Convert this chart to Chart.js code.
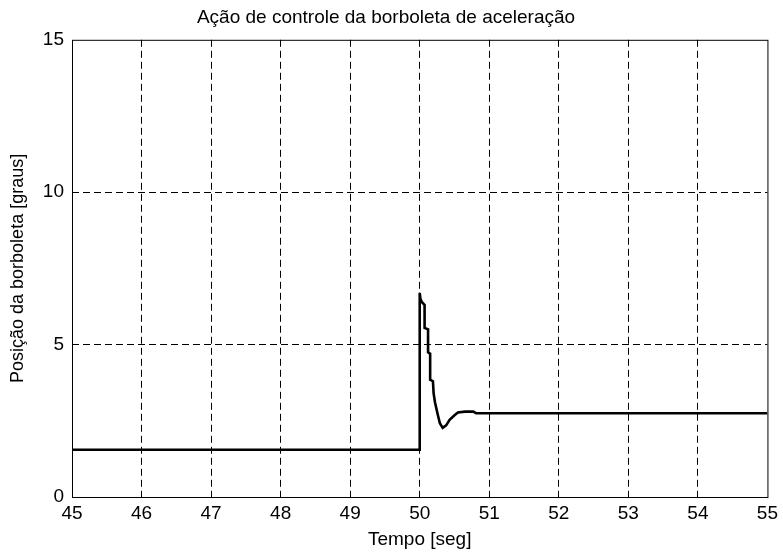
<!DOCTYPE html>
<html>
<head>
<meta charset="utf-8">
<script src="https://cdn.jsdelivr.net/npm/chart.js@4/dist/chart.umd.min.js"></script>
<style>
  body { margin: 0; background: #fff; }
  canvas { display: block; }
</style>
</head>
<body>
<canvas id="throttle" width="783" height="556"></canvas>
<script>
// time [s] and throttle position [deg]
const tempo = [45, 50, 50, 50.01, 50.03, 50.07, 50.07, 50.12, 50.12, 50.15, 50.15, 50.19, 50.2, 50.22, 50.26, 50.29, 50.33, 50.38, 50.43, 50.5, 50.55, 50.65, 50.77, 50.81, 55];
const posicao = [1.55, 1.55, 6.7, 6.5, 6.4, 6.3, 5.55, 5.5, 4.75, 4.7, 3.85, 3.8, 3.4, 3.1, 2.7, 2.42, 2.27, 2.35, 2.53, 2.68, 2.77, 2.8, 2.8, 2.75, 2.75];

const xRange = [45, 55];
const yRange = [0, 15];

const FONT = "'Liberation Sans', Arial, sans-serif";

// hide the dashed grid line on the plot edges, the box covers them
function gridColor(min, max) {
  return function(ctx) {
    const v = ctx.tick && ctx.tick.value;
    return (v === min || v === max) ? 'rgba(0,0,0,0)' : '#000';
  };
}

const boxPlugin = {
  id: 'box',
  afterDraw(chart) {
    const { ctx, chartArea: a } = chart;
    ctx.save();
    ctx.strokeStyle = '#000';
    ctx.lineWidth = 1;
    ctx.setLineDash([]);
    ctx.strokeRect(a.left + 0.5, a.top + 0.5, a.right - a.left, a.bottom - a.top);
    ctx.restore();
  }
};

new Chart(document.getElementById('throttle'), {
  type: 'line',
  data: {
    datasets: [{
      data: tempo.map((t, i) => ({ x: t, y: posicao[i] })),
      borderColor: '#000',
      borderWidth: 2.6,
      pointRadius: 0,
      tension: 0,
      fill: false
    }]
  },
  options: {
    responsive: false,
    animation: false,
    layout: { padding: { left: 0, right: 11, top: 0, bottom: 0 } },
    plugins: {
      legend: { display: false },
      tooltip: { enabled: false },
      title: {
        display: true,
        text: 'Ação de controle da borboleta de aceleração',
        color: '#000',
        font: { family: FONT, size: 19, weight: 'normal' },
        padding: { top: 6, bottom: 11 }
      }
    },
    scales: {
      x: {
        type: 'linear',
        min: xRange[0],
        max: xRange[1],
        afterFit(scale) { scale.height = 59; },
        ticks: { stepSize: 1, color: '#000', padding: 5, font: { family: FONT, size: 19 } },
        grid: { color: gridColor(xRange[0], xRange[1]), lineWidth: 1, drawTicks: false },
        border: { display: false, dash: [7, 4] },
        title: {
          display: true,
          text: 'Tempo [seg]',
          color: '#000',
          font: { family: FONT, size: 19 },
          padding: { top: 0, bottom: 5 }
        }
      },
      y: {
        min: yRange[0],
        max: yRange[1],
        afterFit(scale) { scale.width = 72; },
        ticks: { stepSize: 5, color: '#000', padding: 8, font: { family: FONT, size: 19 } },
        grid: { color: gridColor(yRange[0], yRange[1]), lineWidth: 1, drawTicks: false },
        border: { display: false, dash: [7, 4] },
        title: {
          display: true,
          text: 'Posição da borboleta [graus]',
          color: '#000',
          font: { family: FONT, size: 18 },
          padding: { top: 7, bottom: 0 }
        }
      }
    }
  },
  plugins: [boxPlugin]
});
</script>
</body>
</html>
